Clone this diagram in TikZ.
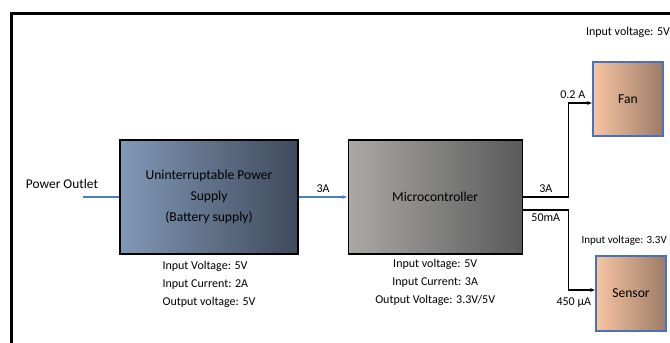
\documentclass[tikz,border=0pt]{standalone}
\usepackage{fontspec}
\setmainfont{Carlito}
\usepackage{xcolor}
\usepackage{tikz}
\usetikzlibrary{arrows.meta, positioning}

\definecolor{upsleft}{HTML}{8198B6}
\definecolor{upsright}{HTML}{3F4A5C}
\definecolor{mculeft}{HTML}{ABA9A8}
\definecolor{mcuright}{HTML}{5A5A5A}
\definecolor{loadleft}{HTML}{F7C5A2}
\definecolor{loadright}{HTML}{9C7B67}
\definecolor{loadedge}{HTML}{4472C4}
\definecolor{feedblue}{HTML}{4A7EC7}

\begin{document}
\begin{tikzpicture}[x=1pt, y=-1pt,
    block/.style={rectangle, draw=black, line width=1.2pt, inner sep=0pt, minimum height=114pt, align=center, font=\fontsize{13.6}{21}\selectfont},
    loadbox/.style={rectangle, draw=loadedge, line width=1.2pt, left color=loadleft, right color=loadright, inner sep=0pt, minimum width=70pt, minimum height=74pt, font=\fontsize{13.6}{16}\selectfont},
    info/.style={font=\fontsize{12}{18}\selectfont},
    tag/.style={font=\fontsize{12}{14}\selectfont},
    feed/.style={draw=feedblue, line width=1.2pt},
    line/.style={draw=black, line width=1.2pt, -{Latex[length=5pt, width=4pt]}}
]
    \useasboundingbox (0,0) rectangle (670,343);
    \clip (0,0) rectangle (670,343);
    \draw[line width=3pt] (11.3,360) -- (11.3,13.5) -- (690,13.5);

    \node[block, left color=upsleft, right color=upsright, minimum width=178pt] (ups) at (209,197) {Uninterruptable Power\\Supply\\(Battery supply)};
    \node[block, left color=mculeft, right color=mcuright, minimum width=174pt, right=49pt of ups] (mcu) {Microcontroller};
    \node[loadbox] (fan) at (628,99) {Fan};
    \node[loadbox, minimum height=75pt] (sensor) at (631,293.5) {Sensor};

    \node[font=\fontsize{13.4}{16}\selectfont] (outlet) at (62,184) {Power Outlet};
    \coordinate (plug) at (83,197);

    \node[info, align=left, below=3pt of ups] (upsinfo) {Input Voltage: 5V\\Input Current: 2A\\Output voltage: 5V};
    \node[info, align=center, below=1pt of mcu] (mcuinfo) {Input voltage: 5V\\Input Current: 3A\\Output Voltage: 3.3V/5V};
    \node[info] (faninfo) at (628,32) {Input voltage: 5V};
    \node[info, font=\fontsize{11}{14}\selectfont, anchor=east, inner sep=1pt] (sensorinfo) at (668,241) {Input voltage: 3.3V};

    % Connections
    \draw[feed] (plug) -- (ups.west);
    \draw[feed, -{Latex[length=5pt, width=4pt]}] (ups) -- node[tag, above] {3A} (mcu);
    \draw[line] (mcu.east) -- ++(46,0) node[tag, midway, above] {3A}
        |- node[tag, pos=0.5, above, xshift=4pt] {0.2 A} ([yshift=-4pt]fan.west);
    \draw[line] ([yshift=-13pt]mcu.east) -- ++(46,0) node[tag, midway, below] {50mA}
        |- node[tag, pos=0.5, below, xshift=5pt, yshift=-4pt] {450 µA} ([yshift=3.5pt]sensor.west);
\end{tikzpicture}
\end{document}
